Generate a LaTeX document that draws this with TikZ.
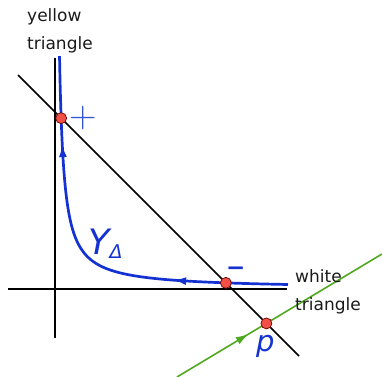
\documentclass[tikz,border=0pt]{standalone}
\usepackage{fontspec}
\setsansfont{DejaVu Sans}
\usetikzlibrary{arrows.meta,decorations.markings}
\definecolor{crvblue}{RGB}{20,50,210}
\definecolor{sgnblue}{RGB}{50,85,215}
\definecolor{lngreen}{RGB}{80,168,30}
\definecolor{dotred}{RGB}{240,80,70}
\definecolor{txtgray}{RGB}{25,25,25}

\begin{document}
\begin{tikzpicture}[x=1pt, y=-1pt,
    every node/.style={font=\sffamily\fontsize{17}{28}\selectfont, inner sep=0pt},
    ax/.style={line width=2pt},
    dg/.style={line width=1.6pt},
    dt/.style={circle, draw=black!60!red, fill=dotred, minimum size=11pt,
               inner sep=0pt, line width=0.7pt},
    crv/.style={crvblue, line width=2.7pt, line join=round},
    txt/.style={anchor=base west, align=left, txtgray},
    sym/.style={anchor=base west, crvblue},
  ]
  \useasboundingbox (0,0) rectangle (382,376);
  % axes and the line
  \coordinate (vt) at (55,58);
  \coordinate (vb) at (55,338);
  \coordinate (hl) at (8,289);
  \coordinate (hr) at (287,289);
  \coordinate (dgs) at (18,75);
  \coordinate (dge) at (299,356);
  \coordinate (grs) at (177,377);
  \coordinate (gre) at (382,254);
  \draw[ax] (vt) -- (vb);
  \draw[ax] (hl) -- (hr);
  \draw[dg] (dgs) -- (dge);
  \draw[lngreen, dg, postaction={decorate}, decoration={markings,
      mark=at position 0.35 with {\arrow{Latex[length=13pt,width=8pt]}}}]
    (grs) -- (gre);
  % the curve Y_Delta
  \draw[crv, postaction={decorate}, decoration={markings,
      mark=at position 115pt with {\arrow{Latex[length=13pt,width=8pt]}},
      mark=at position -88pt with {\arrow{Latex[length=13pt,width=8pt]}}}]
    plot[domain=1.504:5.451, samples=160]
      ({55+exp(6.955-\x)}, {289-1050/exp(6.955-\x)});
  \node[dt] (dplus) at (61.15,118.15) {};
  \node[dt] (dminus) at (225.85,282.85) {};
  \node[dt] (dp) at (266.4,323.4) {};
  % labels
  \node[sym, sgnblue, font=\rmfamily\fontsize{38}{38}\selectfont] (sgnp) at (69,127) {+};
  \node[sym, font=\sffamily\fontsize{23}{23}\selectfont\bfseries] (sgnm) at (226,275) {−};
  \node[sym, font=\sffamily\fontsize{35}{35}\selectfont\itshape] (lblY) at (88,254)
    {Y\raisebox{-4pt}{\fontsize{19}{19}\selectfont Δ}};
  \node[sym, font=\sffamily\fontsize{29}{29}\selectfont\itshape] (lblp) at (256,351) {p};
  \node[txt] (lblyt) at (27,49) {yellow\\triangle};
  \node[txt] (lblwt) at (295,310) {white\\triangle};
\end{tikzpicture}
\end{document}
